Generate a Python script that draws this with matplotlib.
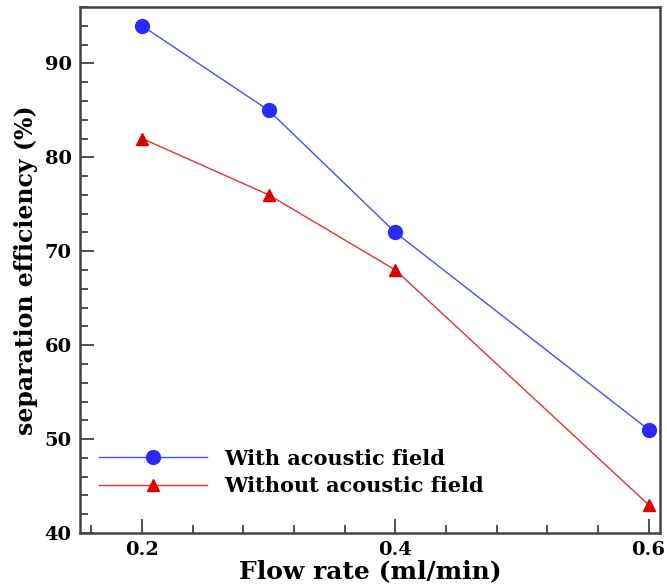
import matplotlib
matplotlib.use("Agg")
import matplotlib.pyplot as plt
from matplotlib.ticker import MultipleLocator

flow_rate = [0.2, 0.3, 0.4, 0.6]
with_field = [94, 85, 72, 51]
without_field = [82, 76, 68, 43]
labels = ["With acoustic field", "Without acoustic field"]
x_ticks = [0.2, 0.4, 0.6]
x_tick_labels = ["0.2", "0.4", "0.6"]

plt.rcParams['font.family'] = ['DejaVu Serif']
plt.rcParams['font.weight'] = 'bold'

fig = plt.figure(figsize=(6.67, 5.86), dpi=100)
ax = fig.add_axes([80/667, 1-533/586, 580/667, 526/586])

ax.plot(flow_rate, with_field, color='#4a4aff', lw=1, marker='o', ms=10,
        mfc='#2a2aff', mec='#2a2aff', label=labels[0])
ax.plot(flow_rate, without_field, color='#e03030', lw=1, marker='^', ms=9,
        mfc='#dd0000', mec='#dd0000', label=labels[1])

ax.set_xlim(0.151, 0.609)
ax.set_ylim(40, 96)
ax.set_xticks(x_ticks)
ax.set_xticklabels(x_tick_labels)
ax.xaxis.set_minor_locator(MultipleLocator(0.04))
ax.yaxis.set_major_locator(MultipleLocator(10))
ax.yaxis.set_minor_locator(MultipleLocator(2))
ax.tick_params(which='both', direction='in', top=False, right=False,
               colors='#333333', labelcolor='black', labelsize=14, pad=6)
ax.tick_params(which='major', length=10, width=1.2)
ax.tick_params(which='minor', length=6, width=1.2)
for lab in ax.get_xticklabels() + ax.get_yticklabels():
    lab.set_fontweight('bold')
for s in ax.spines.values():
    s.set_color('#444444')
    s.set_linewidth(1.8)

ax.set_xlabel('Flow rate (ml/min)', fontsize=18, fontweight='bold', labelpad=0)
ax.set_ylabel('separation efficiency (%)', fontsize=17, fontweight='bold', labelpad=5)

ax.legend(loc='lower left', bbox_to_anchor=(0.0, 0.035), frameon=False,
          handlelength=5.2, handletextpad=0.8, labelspacing=0.35,
          prop={'weight': 'bold', 'size': 15})

fig.savefig('out.png', dpi=100)
